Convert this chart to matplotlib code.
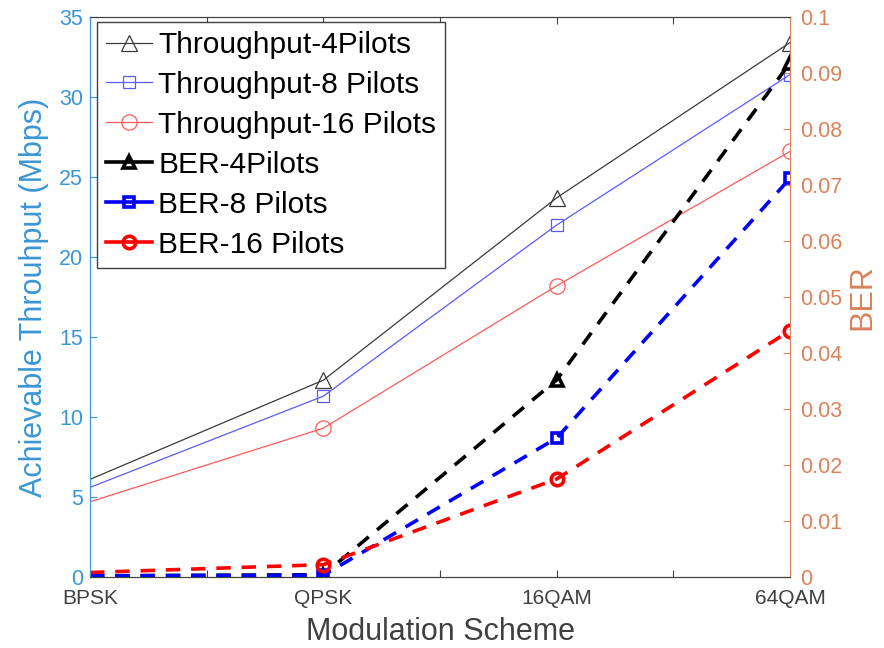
import matplotlib.pyplot as plt
from matplotlib.lines import Line2D
import numpy as np

plt.rcParams['font.family'] = ['Liberation Sans', 'DejaVu Sans']

schemes = ['BPSK', 'QPSK', '16QAM', '64QAM']
x = np.arange(1, len(schemes) + 1)

# achievable throughput (Mbps)
tp_4 = [6.1, 12.3, 23.7, 33.4]
tp_8 = [5.6, 11.3, 22.0, 31.4]
tp_16 = [4.7, 9.3, 18.2, 26.6]

# bit error rate
ber_4 = [0.0002, 0.0004, 0.0352, 0.0918]
ber_8 = [0.0002, 0.0003, 0.0248, 0.0712]
ber_16 = [0.0008, 0.0022, 0.0175, 0.0440]

left_c = '#3a96d4'
right_c = '#d9825b'
gray = '#404040'
marks = [1, 2, 3]  # no marker on the BPSK point

fig = plt.figure(figsize=(8.84, 6.48), dpi=100)
ax1 = fig.add_axes([0.1018, 0.1096, 0.7919, 0.8642])
ax2 = ax1.twinx()

l1, = ax1.plot(x, tp_4, '-^', color='#3a3a3a', lw=0.9, ms=11, mfc='none', mew=0.9, markevery=marks)
l2, = ax1.plot(x, tp_8, '-s', color='#5a5aff', lw=0.9, ms=8, mfc='none', mew=0.9, markevery=marks)
l3, = ax1.plot(x, tp_16, '-o', color='#ff5a5a', lw=0.9, ms=11, mfc='none', mew=0.9, markevery=marks)

kw = dict(lw=2.6, mfc='none', mew=2.6, dashes=(4, 3), markevery=marks)
ax2.plot(x, ber_4, '--^', color='k', ms=9, **kw)
ax2.plot(x, ber_8, '--s', color='#0000ff', ms=7, **kw)
ax2.plot(x, ber_16, '--o', color='#ff0000', ms=9, **kw)

# legend keys for the BER curves are drawn solid
hkw = dict(lw=2.6, mfc='none', mew=2.6)
b1 = Line2D([], [], marker='^', color='k', ms=9, **hkw)
b2 = Line2D([], [], marker='s', color='#0000ff', ms=7, **hkw)
b3 = Line2D([], [], marker='o', color='#ff0000', ms=9, **hkw)

ax1.set_xlim(1, 4)
ax1.set_ylim(0, 35)
ax2.set_ylim(0, 0.1)
ax1.set_xticks(np.arange(1, 4.01, 0.5))
ax1.set_xticklabels(['BPSK', '', 'QPSK', '', '16QAM', '', '64QAM'])
ax1.set_yticks(np.arange(0, 36, 5))
ax2.set_yticks(np.arange(0, 0.101, 0.01))
ax2.set_yticklabels(['0'] + ['%.2f' % v for v in np.arange(0.01, 0.095, 0.01)] + ['0.1'])

ax1.tick_params(axis='x', direction='in', top=True, colors=gray, labelsize=15, length=5, pad=9)
ax1.tick_params(axis='y', direction='in', colors=left_c, labelsize=15.5, length=5, pad=5)
ax2.tick_params(axis='y', direction='in', colors=right_c, labelsize=15.5, length=5, pad=7)

ax1.spines['left'].set_color(left_c)
ax2.spines['left'].set_color(left_c)
ax2.spines['right'].set_color(right_c)
ax1.spines['right'].set_visible(False)
for ax in (ax1, ax2):
    ax.spines['top'].set_color(gray)
    ax.spines['bottom'].set_color(gray)

ax1.set_ylabel('Achievable Throuhput (Mbps)', color=left_c, fontsize=22, labelpad=7)
ax2.set_ylabel('BER', color=right_c, fontsize=23, labelpad=4)
ax1.set_xlabel('Modulation Scheme', color=gray, fontsize=22, labelpad=6)

leg = ax2.legend([l1, l2, l3, b1, b2, b3],
                 ['Throughput-4Pilots', 'Throughput-8 Pilots', 'Throughput-16 Pilots',
                  'BER-4Pilots', 'BER-8 Pilots', 'BER-16 Pilots'],
                 loc='upper left', bbox_to_anchor=(0.01, 0.991), fontsize=21.5,
                 handlelength=1.55, handletextpad=0.2, labelspacing=0.4,
                 borderpad=0.3, borderaxespad=0, fancybox=False, framealpha=1)
leg.get_frame().set_edgecolor(gray)
leg.get_frame().set_linewidth(1.0)

fig.savefig('out.png', dpi=100)
